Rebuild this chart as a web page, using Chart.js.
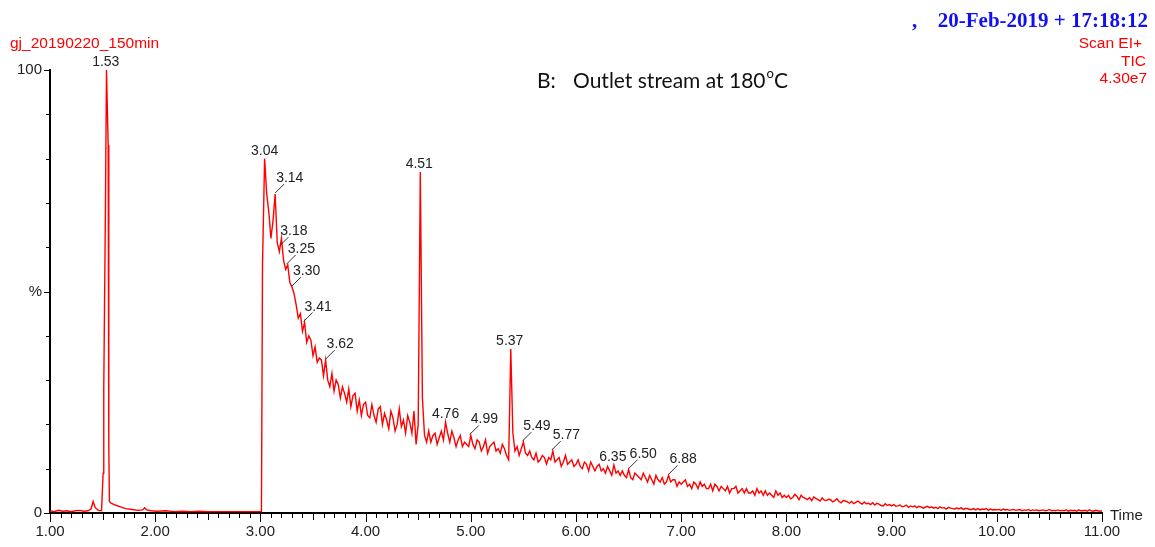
<!DOCTYPE html>
<html>
<head>
<meta charset="utf-8">
<script src="https://cdn.jsdelivr.net/npm/chart.js@4.4.1/dist/chart.umd.min.js"></script>
<style>
  html, body { margin: 0; padding: 0; background: #fff; }
</style>
</head>
<body>
<canvas id="tic" width="1155" height="547"></canvas>
<script>
// early part of the run (irregular points around the 1.53 peak)
const earlyTime = [1.00, 1.04, 1.08, 1.12, 1.16, 1.20, 1.24, 1.28, 1.32, 1.36,
                   1.39, 1.41, 1.43, 1.46, 1.49, 1.505, 1.511, 1.527, 1.537, 1.553,
                   1.559, 1.565, 1.58, 1.62, 1.67, 1.72, 1.78, 1.84, 1.88, 1.90,
                   1.92, 1.96, 2.02, 2.10, 2.18, 2.26, 2.34, 2.42, 2.50, 3.01];
const earlyTic = [0.5, 0.3, 0.6, 0.4, 0.5, 0.3, 0.5, 0.6, 0.4, 0.5,
                  0.9, 2.6, 1.2, 0.6, 0.5, 9, 28, 69, 100, 83,
                  15, 2.6, 2.2, 1.8, 1.4, 1.0, 0.8, 0.6, 0.7, 1.2,
                  0.7, 0.5, 0.4, 0.5, 0.3, 0.4, 0.3, 0.4, 0.3, 0.3];

// scans from 3.02 min, one every 0.02 min
const scanStart = 3.02;
const scanStep = 0.02;
const scanTic = [
  56, 80, 72, 68, 62, 66, 72, 61, 59, 62,
  57, 55, 56, 52, 51, 49.5, 47, 44, 45, 41,
  43, 38.5, 40, 39, 35.5, 37.5, 34, 35, 34.5, 31,
  34.5, 30, 28.5, 31.5, 27.5, 30, 29, 26, 28.5, 27,
  25, 28, 24, 26.5, 27, 23, 25.5, 22, 24.5, 25,
  22, 21.5, 24.5, 22, 20.5, 23.5, 24, 20, 22.5, 21,
  19, 23, 21.5, 18.5, 20, 23.5, 19.5, 21, 18, 22,
  20.5, 18, 23, 15.5, 20, 77, 26, 17.5, 16, 18.5,
  16, 17.5, 18, 15.5, 17, 18.5, 16.5, 20.5, 18, 16,
  18.5, 17, 15, 16.5, 17.5, 15, 16, 15.5, 15, 17.5,
  15.5, 14.5, 16.5, 16, 14, 15, 16.5, 13.5, 15, 15.5,
  16, 14, 14.5, 13.5, 15.5, 14.5, 13, 12, 37, 18,
  14, 15, 13, 14.5, 16, 13.5, 13, 14, 12.5, 12,
  13.5, 11.5, 12, 13, 12.5, 11, 12.5, 12, 14, 11.5,
  12, 12.5, 10.5, 11.5, 13, 11, 11.5, 12, 10.5, 11,
  12, 10.5, 10, 11.5, 11, 9.5, 11.5, 10.5, 9.5, 10.5,
  11, 9.5, 10, 9, 10.5, 9.5, 8.5, 10.8, 9, 9.5,
  8.5, 9.5, 8.5, 8, 9.8, 8, 7.5, 9, 8.5, 8,
  7.5, 9, 8, 7, 8.5, 7.5, 6.5, 8.5, 7.5, 7,
  8, 6.5, 7, 8.5, 7, 7.5, 7.5, 6, 7, 6.5,
  7, 7.5, 6, 6.5, 5.5, 7, 6.5, 5.5, 7, 6,
  6.5, 5.5, 5.5, 6.5, 5, 6.5, 6, 5, 6, 5.5,
  5, 6, 4.5, 5.5, 5.5, 6, 4.5, 5, 5.5, 4.5,
  5.5, 4.5, 4.5, 5, 4, 5.5, 4.5, 5, 4, 5,
  4, 4.5, 4, 3.5, 5, 4, 4.5, 3.5, 4, 3.5,
  4, 3.2, 3.5, 4.2, 3.8, 3, 4, 3.5, 3.3, 3,
  3.5, 2.8, 3.6, 3.3, 3, 2.7, 3.4, 2.9, 2.8, 3.1,
  3, 2.5, 2.8, 3.2, 2.6, 2.3, 2.8, 2.7, 2.5, 2.2,
  2.6, 2.1, 2.4, 2.7, 2.3, 2, 2.5, 2.1, 2.2, 1.9,
  2.3, 1.8, 2.2, 2.0, 1.7, 1.6, 2.1, 1.7, 1.9, 1.6,
  1.9, 1.5, 1.6, 1.8, 1.4, 1.5, 1.8, 1.3, 1.6, 1.4,
  1.6, 1.2, 1.5, 1.4, 1.1, 1.3, 1.5, 1.2, 1.4, 1.1,
  1.3, 1.0, 1.4, 1.1, 1.2, 0.9, 1.3, 1.1, 1.0, 0.9,
  1.1, 0.9, 1.2, 0.8, 1.0, 1.0, 0.8, 0.8, 1.0, 0.7,
  1.0, 0.7, 0.9, 0.8, 1.0, 0.6, 0.9, 0.7, 0.8, 0.7,
  0.8, 0.6, 0.9, 0.7, 0.8, 0.6, 0.7, 0.8, 0.6, 0.7,
  0.8, 0.5, 0.7, 0.6, 0.8, 0.5, 0.7, 0.6, 0.7, 0.5,
  0.6, 0.7, 0.5, 0.6, 0.8, 0.5, 0.6, 0.5, 0.7, 0.5,
  0.6, 0.5, 0.7, 0.4, 0.6, 0.5, 0.6, 0.4, 0.7, 0.5,
  0.5, 0.6, 0.4, 0.7, 0.5, 0.4, 0.6, 0.5, 0.4, 0.5
];

// labelled peaks: retention time, height (%), drawn with a leader line or not
const peakTimes   = [1.53, 3.04, 3.14, 3.18, 3.25, 3.30, 3.41, 3.62, 4.51, 4.76, 4.99, 5.37, 5.49, 5.77, 6.35, 6.50, 6.88];
const peakHeights = [100, 80, 72, 60, 56, 51, 43, 34.5, 77, 20.5, 17.5, 37, 16, 14, 10.8, 9.8, 8.5];
const peakLeader  = [false, false, true, true, true, true, true, true, false, false, true, false, true, true, false, true, true];

const points = [];
for (var i = 0; i < earlyTime.length; i++) {
  points.push({ x: earlyTime[i], y: earlyTic[i] });
}
for (var j = 0; j < scanTic.length; j++) {
  points.push({ x: +(scanStart + j * scanStep).toFixed(2), y: scanTic[j] });
}

const SANS = '"Liberation Sans", Arial, sans-serif';

const overlay = {
  id: 'overlay',
  afterDraw(chart) {
    const c = chart.ctx;
    const xs = chart.scales.x, ys = chart.scales.y;
    const area = chart.chartArea;
    c.save();

    // tick marks
    c.strokeStyle = '#000';
    c.lineWidth = 1;
    for (var k = 0; k <= 100; k++) {
      var x = Math.round(xs.getPixelForValue(1 + k / 10)) + 0.5;
      var len = k % 10 === 0 ? 9 : (k % 5 === 0 ? 7 : 5);
      c.beginPath(); c.moveTo(x, area.bottom); c.lineTo(x, area.bottom + len); c.stroke();
    }
    for (var m = 0; m <= 10; m++) {
      var y = Math.round(ys.getPixelForValue(m * 10)) + 0.5;
      var ln = m % 5 === 0 ? 6 : 4;
      c.beginPath(); c.moveTo(area.left - ln, y); c.lineTo(area.left, y); c.stroke();
    }

    // peak labels
    c.font = '14px ' + SANS;
    c.fillStyle = '#222';
    c.strokeStyle = '#333';
    for (var p = 0; p < peakTimes.length; p++) {
      var px = xs.getPixelForValue(peakTimes[p]);
      var py = ys.getPixelForValue(peakHeights[p]);
      var txt = peakTimes[p].toFixed(2);
      if (peakLeader[p]) {
        c.beginPath(); c.moveTo(px, py - 1); c.lineTo(px + 9, py - 10); c.stroke();
        c.textAlign = 'left'; c.textBaseline = 'alphabetic';
        c.fillText(txt, px + 1, py - 12);
      } else {
        c.textAlign = 'center'; c.textBaseline = 'alphabetic';
        c.fillText(txt, px, py - 4);
      }
    }

    // axis name
    c.font = '15px ' + SANS;
    c.fillStyle = '#222';
    c.textAlign = 'left'; c.textBaseline = 'middle';
    c.fillText('Time', 1110, 516);

    // header texts
    c.fillStyle = '#ff0000';
    c.font = '15.5px ' + SANS;
    c.textBaseline = 'alphabetic';
    c.textAlign = 'left';
    c.fillText('gj_20190220_150min', 10, 48);
    c.textAlign = 'right';
    c.fillText('Scan EI+', 1142, 48);
    c.fillText('TIC', 1146, 66);
    c.fillText('4.30e7', 1147, 83);

    c.fillStyle = '#1010f0';
    c.font = 'bold 21px "Liberation Serif", "Times New Roman", serif';
    c.textAlign = 'left';
    c.fillText(',', 912, 27);
    c.textAlign = 'right';
    c.fillText('20-Feb-2019 + 17:18:12', 1148, 27);

    // panel title
    c.fillStyle = '#111';
    c.textAlign = 'left';
    c.font = '21px Lato, "Open Sans", sans-serif';
    c.fillText('B:', 537, 88);
    var main = 'Outlet stream at 180';
    c.fillText(main, 573, 88);
    var w = c.measureText(main).width;
    c.font = '13px Lato, "Open Sans", sans-serif';
    c.fillText('o', 573 + w + 1, 78);
    var wo = c.measureText('o').width;
    c.font = '21px Lato, "Open Sans", sans-serif';
    c.fillText('C', 573 + w + wo + 1, 88);

    c.restore();
  }
};

new Chart(document.getElementById('tic'), {
  type: 'line',
  data: {
    datasets: [{
      data: points,
      borderColor: '#ff0000',
      borderWidth: 1.4,
      pointRadius: 0,
      tension: 0,
      fill: false
    }]
  },
  options: {
    responsive: false,
    animation: false,
    layout: { padding: { top: 70, right: 53, left: 0, bottom: 0 } },
    plugins: {
      legend: { display: false },
      tooltip: { enabled: false },
      title: { display: false }
    },
    scales: {
      x: {
        type: 'linear',
        min: 1,
        max: 11,
        afterFit: function (scale) { scale.height = 34; },
        grid: { display: true, drawOnChartArea: false, drawTicks: false },
        border: { display: true, color: '#000', width: 2 },
        ticks: {
          stepSize: 1,
          autoSkip: false,
          maxRotation: 0,
          padding: 10,
          color: '#222',
          font: { family: SANS, size: 15 },
          callback: function (v) { return v.toFixed(2); }
        }
      },
      y: {
        min: 0,
        max: 100,
        afterFit: function (scale) { scale.width = 50; },
        grid: { display: true, drawOnChartArea: false, drawTicks: false },
        border: { display: true, color: '#000', width: 2 },
        ticks: {
          stepSize: 50,
          padding: 8,
          color: '#222',
          font: { family: SANS, size: 15 },
          callback: function (v) { return v === 0 ? '0' : (v === 50 ? '%' : (v === 100 ? '100' : '')); }
        }
      }
    }
  },
  plugins: [overlay]
});
</script>
</body>
</html>
